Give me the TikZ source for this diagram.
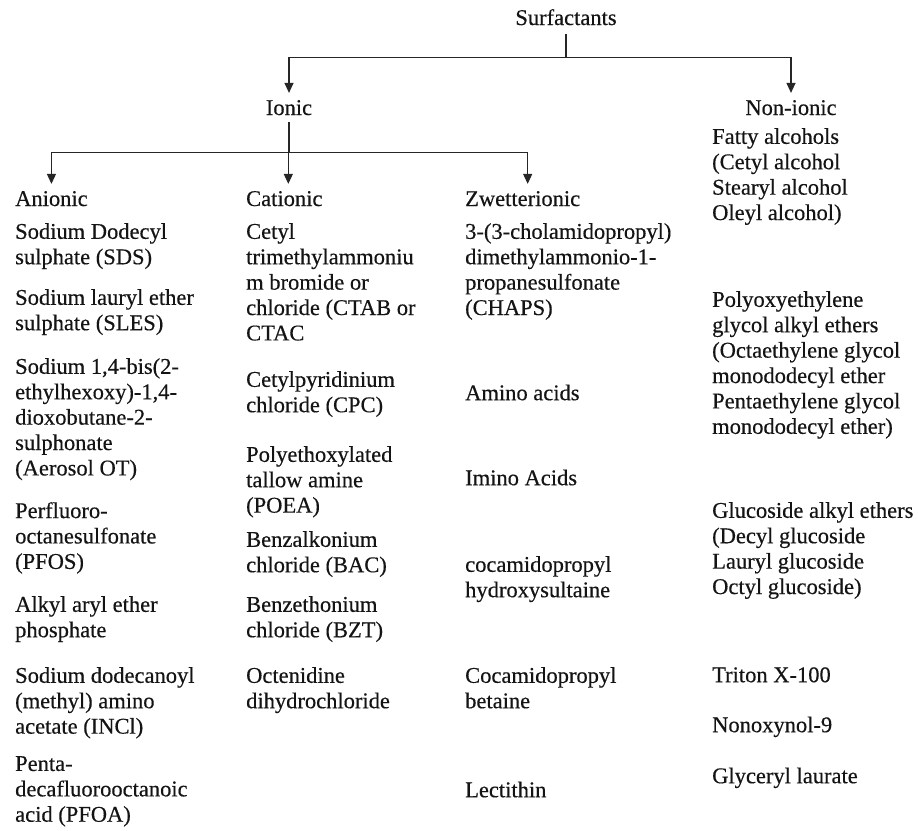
\documentclass[tikz,border=0pt]{standalone}
\usepackage{fontspec}
\setmainfont{Liberation Serif}[FakeBold=0.4]
\usetikzlibrary{arrows.meta}
\begin{document}
\begin{tikzpicture}[x=1pt,y=-1pt,
  every node/.style={inner sep=0pt, text=black!92},
  txt/.style={font=\fontsize{22.5}{25.4}\selectfont},
  head/.style={txt, anchor=base},
  cat/.style={txt, anchor=base west},
  item/.style={txt, anchor=north west, align=left, execute at begin node={\rule{0pt}{17pt}}},
  conn/.style={draw=black!85, line width=1.2pt},
  arr/.style={conn, -{Triangle[width=9pt,length=10pt]}, shorten >=7pt}
]
\useasboundingbox (0,0) rectangle (918,830);

% headings
\node[head] (surf) at (566,25) {Surfactants};
\node[head] (ionic) at (289,115) {Ionic};
\node[head] (nonionic) at (791,115) {Non-ionic};
\node[cat] (anionic) at (15,206) {Anionic};
\node[cat] (cationic) at (246,206) {Cationic};
\node[cat] (zwit) at (465,206) {Zwetterionic};

% connectors
\draw[conn] ([yshift=-9pt]surf.south) -- ++(0,23) coordinate (sj);
\draw[arr] (sj) -| (ionic.north);
\draw[arr] (sj) -| (nonionic.north);
\draw[conn] ([yshift=-7pt]ionic.south) -- ++(0,30) coordinate (ij);
\draw[arr] (ij) -| (anionic.north);
\draw[arr] (ij) -| ([xshift=4pt]cationic.north);
\draw[arr] (ij) -| ([xshift=5pt]zwit.north);

% Anionic
\node[item] (a1) at (15,223) {Sodium Dodecyl\\sulphate (SDS)};
\node[item] (a2) at (15,289) {Sodium lauryl ether\\sulphate (SLES)};
\node[item] (a3) at (15,358) {Sodium 1,4-bis(2-\\ethylhexoxy)-1,4-\\dioxobutane-2-\\sulphonate\\(Aerosol OT)};
\node[item] (a4) at (15,502) {Perfluoro-\\octanesulfonate\\(PFOS)};
\node[item] (a5) at (15,596) {Alkyl aryl ether\\phosphate};
\node[item] (a6) at (15,667) {Sodium dodecanoyl\\(methyl) amino\\acetate (INCl)};
\node[item] (a7) at (15,756) {Penta-\\decafluorooctanoic\\acid (PFOA)};

% Cationic
\node[item] (c1) at (246,223) {Cetyl\\trimethylammoniu\\m bromide or\\chloride (CTAB or\\CTAC};
\node[item] (c2) at (246,371) {Cetylpyridinium\\chloride (CPC)};
\node[item] (c3) at (246,446) {Polyethoxylated\\tallow amine\\(POEA)};
\node[item] (c4) at (246,531) {Benzalkonium\\chloride (BAC)};
\node[item] (c5) at (246,596) {Benzethonium\\chloride (BZT)};
\node[item] (c6) at (246,667) {Octenidine\\dihydrochloride};

% Zwitterionic
\node[item] (z1) at (465,223) {3-(3-cholamidopropyl)\\dimethylammonio-1-\\propanesulfonate\\(CHAPS)};
\node[item] (z2) at (465,383) {Amino acids};
\node[item] (z3) at (465,468) {Imino Acids};
\node[item] (z4) at (465,556) {cocamidopropyl\\hydroxysultaine};
\node[item] (z5) at (465,667) {Cocamidopropyl\\betaine};
\node[item] (z6) at (465,780) {Lectithin};

% Non-ionic
\node[item] (n1) at (712,128) {Fatty alcohols\\(Cetyl alcohol\\Stearyl alcohol\\Oleyl alcohol)};
\node[item] (n2) at (712,291) {Polyoxyethylene\\glycol alkyl ethers\\(Octaethylene glycol\\monododecyl ether\\Pentaethylene glycol\\monododecyl ether)};
\node[item] (n3) at (712,502) {Glucoside alkyl ethers\\(Decyl glucoside\\Lauryl glucoside\\Octyl glucoside)};
\node[item] (n4) at (712,665) {Triton X-100};
\node[item] (n5) at (712,715) {Nonoxynol-9};
\node[item] (n6) at (712,766) {Glyceryl laurate};
\end{tikzpicture}
\end{document}
